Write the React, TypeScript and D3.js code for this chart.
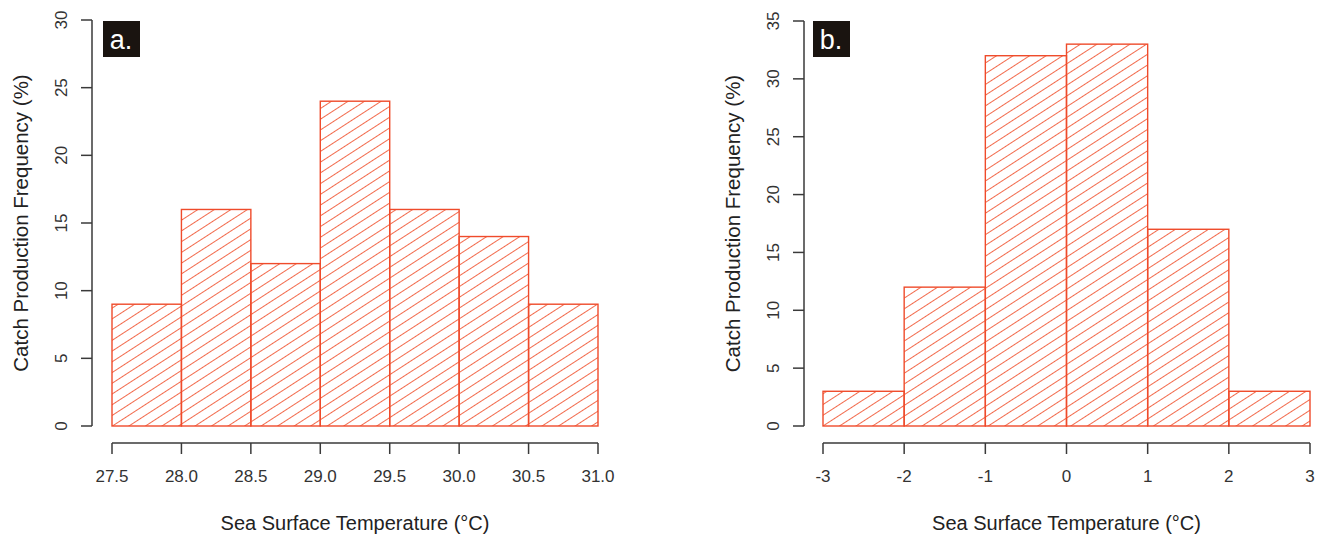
import React from "react";
import * as d3 from "d3";

const binsA = [27.5, 28.0, 28.5, 29.0, 29.5, 30.0, 30.5, 31.0];
const freqA = [9, 16, 12, 24, 16, 14, 9];
const ticksXA = ["27.5", "28.0", "28.5", "29.0", "29.5", "30.0", "30.5", "31.0"];
const ticksYA = [0, 5, 10, 15, 20, 25, 30];

const binsB = [-3, -2, -1, 0, 1, 2, 3];
const freqB = [3, 12, 32, 33, 17, 3];
const ticksXB = ["-3", "-2", "-1", "0", "1", "2", "3"];
const ticksYB = [0, 5, 10, 15, 20, 25, 30, 35];

const xTitle = "Sea Surface Temperature (°C)";
const yTitle = "Catch Production Frequency (%)";

const RED = "#ef4b2b";
const AXIS = "#3a3a3a";
const FONT = "'Liberation Sans', Arial, sans-serif";

type PanelProps = {
  id: string;
  label: string;
  bins: number[];
  freq: number[];
  xTicks: string[];
  yTicks: number[];
  xRange: [number, number];
  yMax: number;
  yTop: number;
  axisX: number;
  boxX: number;
};

function Panel(p: PanelProps) {
  const x = d3.scaleLinear().domain([p.bins[0], p.bins[p.bins.length - 1]]).range(p.xRange);
  const y = d3.scaleLinear().domain([0, p.yMax]).range([426, p.yTop]);
  const axisY = 443;
  const cx = (p.xRange[0] + p.xRange[1]) / 2;
  const cy = (y(0) + y(p.yMax)) / 2;
  return (
    <g>
      {/* bars */}
      {p.freq.map((f, i) => (
        <rect
          key={i}
          x={x(p.bins[i])}
          y={y(f)}
          width={x(p.bins[i + 1]) - x(p.bins[i])}
          height={y(0) - y(f)}
          fill="url(#hatch)"
          stroke={RED}
          strokeWidth={1.4}
        />
      ))}
      {/* y axis */}
      <line x1={p.axisX} x2={p.axisX} y1={y(0)} y2={y(p.yMax)} stroke={AXIS} strokeWidth={1.5} />
      {p.yTicks.map((t) => (
        <g key={t} transform={`translate(${p.axisX},${y(t)})`}>
          <line x1={-11} x2={0} stroke={AXIS} strokeWidth={1.5} />
          <text
            transform="translate(-25,0) rotate(-90)"
            textAnchor="middle"
            fontSize={17}
            fill="#333"
            fontFamily={FONT}
          >
            {t}
          </text>
        </g>
      ))}
      {/* x axis */}
      <line x1={p.xRange[0]} x2={p.xRange[1]} y1={axisY} y2={axisY} stroke={AXIS} strokeWidth={1.5} />
      {p.bins.map((b, i) => (
        <g key={i} transform={`translate(${x(b)},${axisY})`}>
          <line y1={0} y2={11} stroke={AXIS} strokeWidth={1.5} />
          <text y={39} textAnchor="middle" fontSize={17} fill="#333" fontFamily={FONT}>
            {p.xTicks[i]}
          </text>
        </g>
      ))}
      {/* titles */}
      <text x={cx} y={530} textAnchor="middle" fontSize={20} fill="#222" fontFamily={FONT}>
        {xTitle}
      </text>
      <text
        transform={`translate(${p.axisX - 64},${cy}) rotate(-90)`}
        textAnchor="middle"
        fontSize={20.5}
        fill="#222"
        fontFamily={FONT}
      >
        {yTitle}
      </text>
      {/* panel label */}
      <rect x={p.boxX} y={21} width={37} height={36} fill="#1a1410" />
      <text x={p.boxX + 18} y={49} textAnchor="middle" fontSize={27} fill="#fff" fontFamily={FONT}>
        {p.label}
      </text>
    </g>
  );
}

export default function App() {
  return (
    <svg
      width={1323}
      height={538}
      style={{ position: "absolute", left: 0, top: 0, background: "#fff" }}
    >
      <defs>
        <pattern
          id="hatch"
          patternUnits="userSpaceOnUse"
          width={20}
          height={9}
          patternTransform="rotate(-33)"
        >
          <line x1={0} x2={20} y1={4.5} y2={4.5} stroke="#f26a4c" strokeWidth={1} />
        </pattern>
      </defs>
      <Panel
        id="a"
        label="a."
        bins={binsA}
        freq={freqA}
        xTicks={ticksXA}
        yTicks={ticksYA}
        xRange={[112, 598]}
        yMax={30}
        yTop={20}
        axisX={92}
        boxX={103}
      />
      <Panel
        id="b"
        label="b."
        bins={binsB}
        freq={freqB}
        xTicks={ticksXB}
        yTicks={ticksYB}
        xRange={[823, 1310]}
        yMax={35}
        yTop={21}
        axisX={804}
        boxX={813}
      />
    </svg>
  );
}
